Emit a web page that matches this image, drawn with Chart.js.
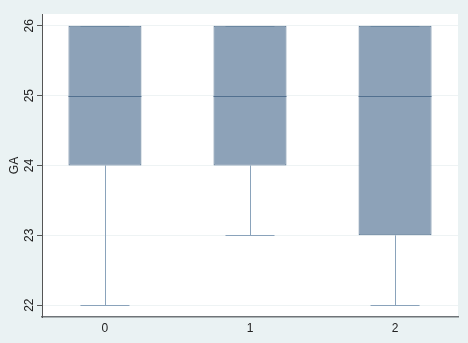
<!DOCTYPE html>
<html>
<head>
<meta charset="utf-8">
<script src="https://cdn.jsdelivr.net/npm/chart.js@4"></script>
<style>
  html, body { margin: 0; padding: 0; background: #EAF2F3; }
  #wrap { width: 468px; height: 343px; }
</style>
</head>
<body>
<div id="wrap"><canvas id="myChart" width="468" height="343"></canvas></div>
<script>
const categories = [0, 1, 2];
const mins = [22, 23, 22];
const q1s = [24, 24, 23];
const medians = [25, 25, 25];
const q3s = [26, 26, 26];
const maxs = [26, 26, 26];
const yTicks = [22, 23, 24, 25, 26];

const boxFill = '#8DA2B8';
const boxLine = '#52708F';
const whiskerColor = '#8AA3BB';
const boxHalf = 0.2515;
const capHalf = 0.169;

// white plot region behind everything
const plotBg = {
  id: 'plotBg',
  beforeDraw(chart) {
    const {ctx, chartArea: a} = chart;
    ctx.save();
    ctx.fillStyle = '#EAF2F3';
    ctx.fillRect(0, 0, chart.width, chart.height);
    ctx.fillStyle = '#ffffff';
    ctx.fillRect(a.left, a.top, a.right - a.left, a.bottom - a.top);
    ctx.restore();
  }
};

function hline(ctx, x0, x1, y) {
  ctx.beginPath();
  ctx.moveTo(x0, y);
  ctx.lineTo(x1, y);
  ctx.stroke();
}

// whiskers + caps under the boxes, medians on top
const boxParts = {
  id: 'boxParts',
  beforeDatasetsDraw(chart) {
    const {ctx, scales: {x, y}} = chart;
    ctx.save();
    ctx.strokeStyle = whiskerColor;
    ctx.lineWidth = 1;
    categories.forEach((c, i) => {
      const cx = Math.round(x.getPixelForValue(c)) + 0.5;
      ctx.beginPath();
      ctx.moveTo(cx, y.getPixelForValue(q1s[i]));
      ctx.lineTo(cx, y.getPixelForValue(mins[i]));
      ctx.moveTo(cx, y.getPixelForValue(q3s[i]));
      ctx.lineTo(cx, y.getPixelForValue(maxs[i]));
      ctx.stroke();
      const l = x.getPixelForValue(c - capHalf), r = x.getPixelForValue(c + capHalf);
      hline(ctx, l, r, Math.round(y.getPixelForValue(mins[i])) + 0.5);
      hline(ctx, l, r, Math.round(y.getPixelForValue(maxs[i])) + 0.5);
    });
    ctx.restore();
  },
  afterDatasetsDraw(chart) {
    const {ctx, scales: {x, y}} = chart;
    ctx.save();
    ctx.strokeStyle = boxLine;
    ctx.lineWidth = 1;
    categories.forEach((c, i) => {
      hline(ctx, x.getPixelForValue(c - boxHalf), x.getPixelForValue(c + boxHalf),
        Math.round(y.getPixelForValue(medians[i])) + 0.5);
    });
    ctx.restore();
  }
};

let ctx = document.getElementById('myChart');
let myChart = new Chart(ctx, {
  type: 'bar',
  data: {
    datasets: [{
      data: categories.map((c, i) => ({x: c, y: [q1s[i], q3s[i]]})),
      backgroundColor: boxFill,
      borderColor: boxLine,
      borderWidth: 1,
      borderSkipped: false,
      barPercentage: 0.503,
      categoryPercentage: 1
    }]
  },
  options: {
    responsive: false,
    animation: false,
    layout: { padding: { left: 0, top: 14, right: 10, bottom: 0 } },
    plugins: { legend: { display: false }, tooltip: { enabled: false } },
    scales: {
      x: {
        type: 'linear',
        offset: false,
        min: -0.434,
        max: 2.434,
        afterBuildTicks: s => { s.ticks = categories.map(v => ({value: v})); },
        afterFit: s => { s.height = 26; },
        grid: { display: false, drawTicks: false },
        border: { display: true, color: '#6f7478', width: 1.5 },
        ticks: {
          color: '#222',
          padding: 4,
          font: { family: 'Liberation Sans, Arial', size: 12 },
          callback: v => String(v)
        }
      },
      y: {
        min: 21.83,
        max: 26.17,
        afterBuildTicks: s => { s.ticks = yTicks.map(v => ({value: v})); },
        afterFit: s => { s.width = 42; },
        grid: { color: '#EEF3F4', lineWidth: 1, tickLength: 5, tickColor: '#555' },
        border: { display: true, color: '#555', width: 1 },
        title: {
          display: true,
          text: 'GA',
          color: '#222',
          padding: { top: 7, bottom: 0 },
          font: { family: 'Liberation Sans, Arial', size: 12 }
        },
        ticks: {
          color: '#222',
          padding: 1,
          minRotation: 90,
          maxRotation: 90,
          crossAlign: 'center',
          font: { family: 'Liberation Sans, Arial', size: 12 },
          callback: v => String(v)
        }
      }
    }
  },
  plugins: [plotBg, boxParts]
});
</script>
</body>
</html>
